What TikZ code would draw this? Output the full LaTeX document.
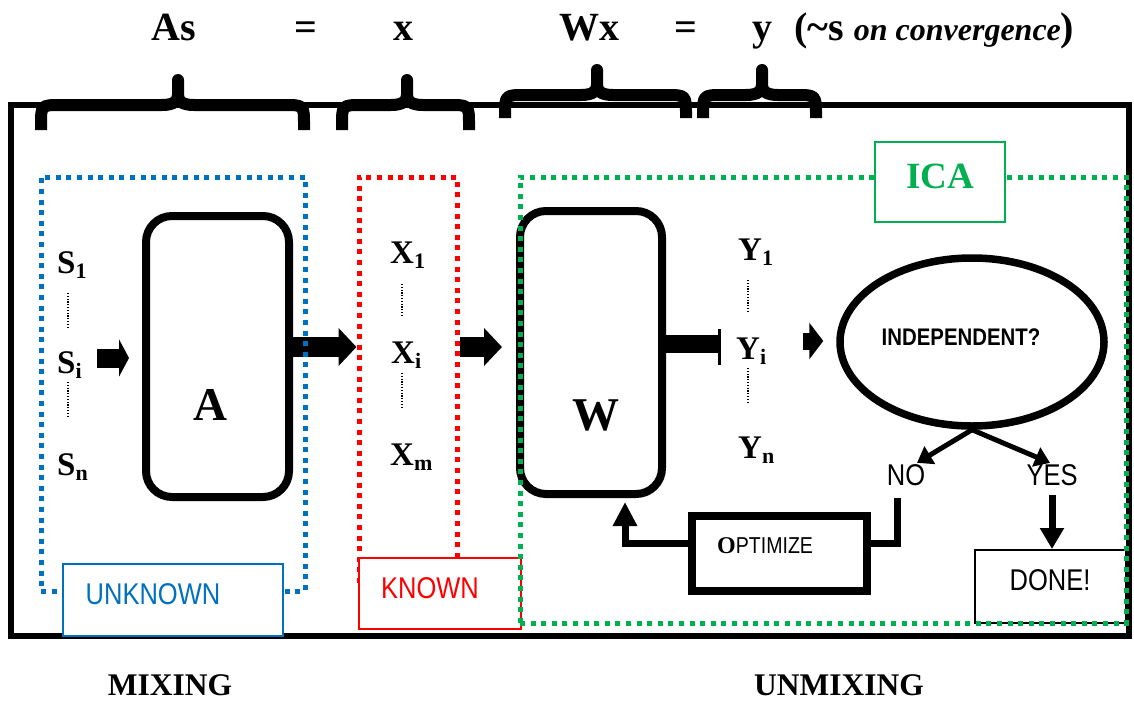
\documentclass[tikz,border=0pt]{standalone}
\usepackage{fontspec}
\setmainfont{Liberation Serif}
\newfontfamily\nsans[FakeStretch=0.85]{Liberation Sans}
\usetikzlibrary{arrows.meta,shapes.geometric,calc}
\pgfdeclarelayer{back}
\pgfsetlayers{back,main}
\definecolor{mblue}{HTML}{0070C0}
\definecolor{mred}{HTML}{FF0000}
\definecolor{mgreen}{HTML}{00B050}
\newcommand\fsz[1]{\fontsize{#1}{#1}\selectfont}
\newcommand\lowsub[1]{\raisebox{-5pt}{\fsz{22}#1}}
% curly brace over a block: x-left, x-right, x-tip, y-band, y-arm-end, y-tip
\newcommand\drawbrace[6]{%
  \draw[bracestroke] (#1,#5) -- (#1,#4+20) .. controls (#1,#4) .. (#1+20,#4)
    -- (#3-16,#4) .. controls (#3-4,#4) and (#3,#4-4) .. (#3,#4-10) -- (#3,#6)
    -- (#3,#4-10) .. controls (#3,#4-4) and (#3+4,#4) .. (#3+16,#4)
    -- (#2-20,#4) .. controls (#2,#4) .. (#2,#4+20) -- (#2,#5);}

\begin{document}
\begin{tikzpicture}[x=1pt,y=-1pt,
  bracestroke/.style={line width=12pt, line join=round, line cap=butt},
  eqtext/.style={font=\fsz{40}\bfseries, anchor=base, inner sep=0pt},
  vartext/.style={font=\fsz{33}\bfseries, anchor=base west, inner sep=0pt},
  bigtext/.style={font=\fsz{47}\bfseries, anchor=base, inner sep=0pt},
  narrowtext/.style={font=\nsans\fsz{30}, anchor=base, inner sep=0pt},
  captext/.style={font=\fsz{31.5}\bfseries, anchor=base, inner sep=0pt},
  region/.style={line width=5pt, dash pattern=on 5pt off 5.6pt, inner sep=0pt},
  thinbox/.style={line width=2pt, fill=white, inner sep=0pt},
  procbox/.style={draw, line width=8pt, rounded corners=26pt, inner sep=0pt},
  vdots/.style={line width=1.4pt, dash pattern=on 1.2pt off 1.6pt},
  blkA/.style={line width=20pt, -{Triangle[length=18pt,width=37pt]}},
  blkS/.style={line width=19pt, -{Triangle[length=10pt,width=37pt]}},
  blkY/.style={line width=17pt, -{Triangle[length=14pt,width=36pt]}},
  decide/.style={line width=5pt, -{Triangle[length=15pt,width=20pt]}},
  feed/.style={line width=7pt}
]
\useasboundingbox (0,0) rectangle (1134,701);

% equation along the top
\node[eqtext] (As) at (174,41) {As};
\node[eqtext] (eqa) at (306,41) {=};
\node[eqtext] (xv) at (403,41) {x};
\node[eqtext] (Wx) at (589,41) {Wx};
\node[eqtext] (eqb) at (686,41) {=};
\node[eqtext] (yv) at (762,41) {y};
\node[eqtext, anchor=base west] (conv) at (794,41)
  {(\textasciitilde s {\fsz{32}\itshape on convergence})};

% braces and outer frame
\drawbrace{41}{304}{178}{105}{130}{80}
\drawbrace{342}{469}{407}{105}{130}{80}
\drawbrace{505}{686}{597}{95}{118}{70}
\drawbrace{703}{816}{762}{95}{118}{70}
\draw[line width=6.5pt] (11,105) rectangle (1129,636);

% processing blocks
\node[procbox, minimum width=143pt, minimum height=281pt] (A) at (217.5,356.5) {};
\node[bigtext] (Alabel) at (210,420) {A};
\begin{pgfonlayer}{back}
  \node[procbox, minimum width=142pt, minimum height=283pt] (W) at (591,352.5) {};
  \node[thinbox, draw, minimum width=151pt, minimum height=73pt] (done) at (1050.5,586.5) {};
\end{pgfonlayer}
\node[bigtext] (Wlabel) at (596,430) {W};

% dotted regions with their tags
\node[region, draw=mblue, minimum width=264pt, minimum height=414pt] (sreg) at (173,384) {};
\node[thinbox, draw=mblue, minimum width=220pt, minimum height=72pt] (unk) at (173,600) {};
\node[narrowtext, text=mblue] (unklabel) at (153,604) {UNKNOWN};
\node[region, draw=mred, minimum width=98pt, minimum height=410pt] (xreg) at (408,382) {};
\node[thinbox, draw=mred, minimum width=162pt, minimum height=71pt] (kn) at (440,593.5) {};
\node[narrowtext, text=mred] (knlabel) at (430,598) {KNOWN};
\node[region, draw=mgreen, minimum width=606pt, minimum height=446pt] (yreg) at (823,400) {};
\node[thinbox, draw=mgreen, minimum width=130pt, minimum height=80pt] (ica) at (940,182) {};
\node[font=\fsz{37}\bfseries, text=mgreen, anchor=base, inner sep=0pt] (icalabel) at (940,188) {ICA};

% signals
\node[vartext] (s1) at (57,273) {S\lowsub{1}};
\node[vartext] (si) at (57,373) {S\lowsub{i}};
\node[vartext] (sn) at (57,475) {S\lowsub{n}};
\node[vartext] (x1) at (390,263) {X\lowsub{1}};
\node[vartext] (xi) at (391,363) {X\lowsub{i}};
\node[vartext] (xm) at (390,465) {X\lowsub{m}};
\node[vartext] (y1) at (738,260) {Y\lowsub{1}};
\node[vartext] (yi) at (736,359) {Y\lowsub{i}};
\node[vartext] (yn) at (738,458) {Y\lowsub{n}};
\draw[vdots] (68,293) -- (68,327);
\draw[vdots] (68,382) -- (68,416);
\draw[vdots] (402,284) -- (402,317);
\draw[vdots] (402,373) -- (402,407);
\draw[vdots] (748,280) -- (748,313);
\draw[vdots] (748,368) -- (748,402);

% block arrows between stages
\coordinate (ax) at ($(A.east)+(0,-9.5)$);
\begin{pgfonlayer}{back}
  \draw[blkA] (ax) -- (ax -| xreg.west);
  \draw[blkA] (ax -| xreg.east) -- ($(ax -| W.west)+(-14,0)$);
\end{pgfonlayer}
\coordinate (sfoot) at (97,358);
\draw[blkS] (sfoot) -- ($(sfoot -| A.west)+(-13,0)$);
\coordinate (wy) at ($(W.east)+(52,-8.5)$);
\draw[line width=18pt] (wy -| W.east) -- (wy);
\draw[line width=3pt] ($(wy)+(1.5,-15)$) -- ($(wy)+(1.5,21)$);

% independence test
\node[draw, ellipse, line width=7.5pt, minimum width=264pt, minimum height=168pt, inner sep=0pt] (ell) at (972,342) {};
\node[font=\nsans\fsz{24}\bfseries, anchor=base, inner sep=0pt] (indep) at (961,345) {INDEPENDENT?};
\coordinate (ye) at (803,341);
\draw[blkY] (ye) -- ($(ye -| ell.west)+(-13,0)$);
\node[narrowtext] (no) at (906,485) {NO};
\node[narrowtext] (yes) at (1052,485) {YES};
\draw[decide] (ell.south) -- ($(no.north)+(11,-1)$);
\draw[decide] (ell.south) -- ($(yes.north)+(-2,-1)$);

% optimisation loop
\node[draw, line width=8pt, minimum width=175pt, minimum height=75pt, inner sep=0pt] (opt) at (779.5,553.5) {};
\node[anchor=base west, inner sep=0pt] (optlabel) at (717,553)
  {{\fsz{24}\bfseries O}{\nsans\fsz{23}PTIMIZE}};
\coordinate (nofoot) at (897,498);
\draw[feed] (nofoot) |- ($(opt.east)+(0,-10.5)$);
\draw[feed, -{Triangle[length=24pt,width=23pt]}] ($(opt.west)+(0,-10.5)$) -| ($(W.south)+(34,4)$);
\coordinate (yesfoot) at (1052,495);
\draw[feed, -{Triangle[length=21pt,width=23pt]}] (yesfoot) -- (yesfoot |- done.north);
\node[narrowtext] (donelabel) at (1050,590) {DONE!};

% captions
\node[captext] (mix) at (170,695) {MIXING};
\node[captext] (unmix) at (839,695) {UNMIXING};
\end{tikzpicture}
\end{document}
